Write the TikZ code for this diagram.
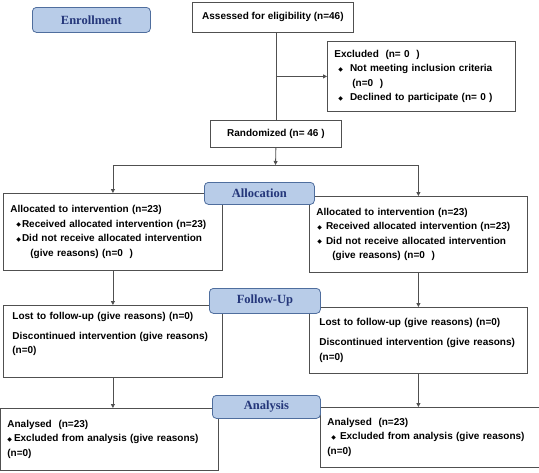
\documentclass[tikz,border=0pt]{standalone}
\usepackage{fontspec}
\setmainfont{Liberation Sans}
\newfontfamily\serfont{Liberation Serif}
\newfontfamily\symfont{DejaVu Sans}
\usetikzlibrary{arrows.meta}
\definecolor{labfill}{HTML}{B8CCE8}
\definecolor{labedge}{HTML}{4F6E9E}
\definecolor{labtext}{HTML}{24367A}
\definecolor{edgegray}{HTML}{505050}
\newcommand{\dmd}{\raisebox{0.6pt}{\symfont\fontsize{6}{6}\selectfont ◆}}
\begin{document}
\begin{tikzpicture}[x=1pt,y=-1pt,
    stage/.style={draw=labedge, fill=labfill, rounded corners=4pt, anchor=north west, inner sep=0pt, text=labtext, line width=0.8pt, font=\serfont\bfseries\fontsize{12.5}{14}\selectfont},
    box/.style={draw=edgegray, fill=white, anchor=north west, line width=0.8pt, inner xsep=7pt, inner ysep=0pt, align=left, font=\bfseries\fontsize{10}{14.5}\selectfont},
    edge/.style={draw=edgegray, line width=0.8pt},
    arr/.style={edge, -{Triangle[width=4pt,length=4pt]}}]
    \useasboundingbox (0,0) rectangle (539,472);
    \node[box, align=center, minimum width=161pt, minimum height=30pt] (assess) at (192,2) {Assessed for eligibility (n=46)};
    \node[box, text width=174pt, minimum width=188pt, minimum height=70pt, inner xsep=7pt] (excl) at (327,41) {Excluded~ (n= 0~ )\\
        \hspace*{4pt}\dmd\hspace{7pt}Not meeting inclusion criteria\\
        \hspace*{18pt}(n=0~ )\\
        \hspace*{4pt}\dmd\hspace{7pt}Declined to participate (n= 0 )};
    \node[box, align=center, minimum width=131pt, minimum height=27pt] (rand) at (210,120) {Randomized (n= 46 )};
    \node[box, text width=205pt, minimum width=219pt, minimum height=77pt] (allocL) at (3,193) {Allocated to intervention (n=23)\\
        \hspace*{6pt}\dmd\hspace{1pt}Received allocated intervention (n=23)\\
        \hspace*{6pt}\dmd\hspace{1pt}Did not receive allocated intervention\\
        \hspace*{20pt}(give reasons) (n=0~ )};
    \node[box, text width=204pt, minimum width=218pt, minimum height=76pt] (allocR) at (309,196) {Allocated to intervention (n=23)\\
        \hspace*{1pt}\dmd\hspace{4pt}Received allocated intervention (n=23)\\
        \hspace*{1pt}\dmd\hspace{4pt}Did not receive allocated intervention\\
        \hspace*{16pt}(give reasons) (n=0~ )};
    \node[box, inner xsep=9pt, text width=201pt, minimum width=219pt, minimum height=72pt] (followL) at (3,305) {Lost to follow-up (give reasons) (n=0)\\[5.5pt]
        Discontinued intervention (give reasons)\\
        (n=0)\\[3pt]\mbox{}};
    \node[box, inner xsep=10pt, text width=198pt, minimum width=218pt, minimum height=66pt] (followR) at (309,307) {Lost to follow-up (give reasons) (n=0)\\[5.5pt]
        Discontinued intervention (give reasons)\\
        (n=0)};
    \node[box, text width=204pt, minimum width=218pt, minimum height=62pt] (anaL) at (0,408) {Analysed~ (n=23)\\
        \dmd\hspace{2pt}Excluded from analysis (give reasons)\\
        (n=0)};
    \node[box, text width=205pt, minimum width=219pt, minimum height=60pt] (anaR) at (320,407) {Analysed~ (n=23)\\
        \hspace*{4pt}\dmd\hspace{4pt}Excluded from analysis (give reasons)\\
        (n=0)};
    \node[stage, minimum width=118pt, minimum height=25pt] (enroll) at (32,7) {Enrollment};
    \node[stage, minimum width=110pt, minimum height=22pt] (alloclab) at (204,182) {Allocation};
    \node[stage, minimum width=111pt, minimum height=25pt] (followlab) at (209,288) {Follow-Up};
    \node[stage, minimum width=108pt, minimum height=23pt] (analab) at (212,395) {Analysis};
    \coordinate (split) at (275.5,165);
    \draw[edge] (rand.north |- assess.south) -- (rand.north);
    \draw[arr] (rand.north |- excl.west) -- (excl.west);
    \draw[arr] (rand.south) -- (split);
    \draw[edge] (allocL.north |- split) -- (allocR.north |- split);
    \draw[arr] (allocL.north |- split) -- (allocL.north);
    \draw[arr] (allocR.north |- split) -- (allocR.north);
    \draw[arr] (allocL.south) -- (followL.north);
    \draw[arr] (allocR.south) -- (followR.north);
    \draw[arr] (followL.south) -- (followL.south |- anaL.north);
    \draw[arr] (followR.south) -- (followR.south |- anaR.north);
\end{tikzpicture}
\end{document}
